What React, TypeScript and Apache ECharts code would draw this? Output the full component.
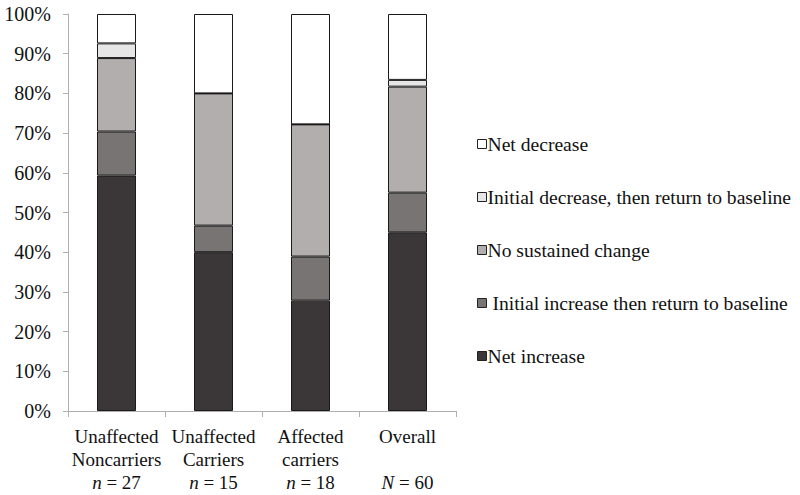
import React, { useEffect, useRef } from "react";
import * as echarts from "echarts";

const categories = [
  "Unaffected\nNoncarriers\n{i|n} = 27",
  "Unaffected\nCarriers\n{i|n} = 15",
  "Affected\ncarriers\n{i|n} = 18",
  "Overall\n \n{i|N} = 60",
];
const netIncrease = [59.3, 40.0, 27.8, 45.0];
const initialIncrease = [11.1, 6.7, 11.1, 10.0];
const noSustained = [18.5, 33.3, 33.3, 26.7];
const initialDecrease = [3.7, 0, 0, 1.7];
const netDecrease = [7.4, 20.0, 27.8, 16.6];

const seriesNames = [
  "Net increase",
  " Initial increase then return to baseline",
  "No sustained change",
  "Initial decrease, then return to baseline",
  "Net decrease",
];
const seriesColors = ["#3b3738", "#797474", "#b1aead", "#e6e6e6", "#ffffff"];
const seriesData = [netIncrease, initialIncrease, noSustained, initialDecrease, netDecrease];

const FONT = "Liberation Serif";

export default function App() {
  const ref = useRef<HTMLDivElement>(null);
  useEffect(() => {
    document.body.style.margin = "0";
    const chart = echarts.init(ref.current!, null, { renderer: "svg" });
    chart.setOption({
      animation: false,
      backgroundColor: "#ffffff",
      textStyle: { fontFamily: FONT },
      grid: { left: 68, right: 344, top: 14, bottom: 84 },
      legend: {
        orient: "vertical",
        left: 472,
        top: 128,
        itemWidth: 9,
        itemHeight: 9,
        itemGap: 31,
        icon: "rect",
        data: [...seriesNames].reverse(),
        itemStyle: { borderColor: "#222", borderWidth: 1 },
        textStyle: { fontFamily: FONT, fontSize: 19.6, color: "#111", lineHeight: 22, padding: [0, 0, 0, -4] },
      },
      xAxis: {
        type: "category",
        data: categories,
        axisLine: { lineStyle: { color: "#b0b0b0" } },
        axisTick: { show: true, length: 6, lineStyle: { color: "#b0b0b0" } },
        axisLabel: {
          interval: 0,
          margin: 14,
          fontFamily: FONT,
          fontSize: 19,
          color: "#111",
          lineHeight: 23,
          rich: { i: { fontStyle: "italic", fontFamily: FONT, fontSize: 19, lineHeight: 23, color: "#111" } },
        },
      },
      yAxis: {
        type: "value",
        min: 0,
        max: 100,
        interval: 10,
        splitLine: { show: false },
        axisLine: { show: true, lineStyle: { color: "#b0b0b0" } },
        axisTick: { show: true, length: 5, lineStyle: { color: "#b0b0b0" } },
        axisLabel: { formatter: "{value}%", fontFamily: FONT, fontSize: 20, color: "#111", margin: 17 },
      },
      series: seriesNames.map((name, i) => ({
        name,
        type: "bar",
        stack: "total",
        barWidth: 39,
        data: seriesData[i],
        itemStyle: { color: seriesColors[i], borderColor: "#1a1a1a", borderWidth: 1 },
      })),
    });
    return () => chart.dispose();
  }, []);
  return <div ref={ref} style={{ position: "fixed", left: 0, top: 0, width: 800, height: 495 }} />;
}
